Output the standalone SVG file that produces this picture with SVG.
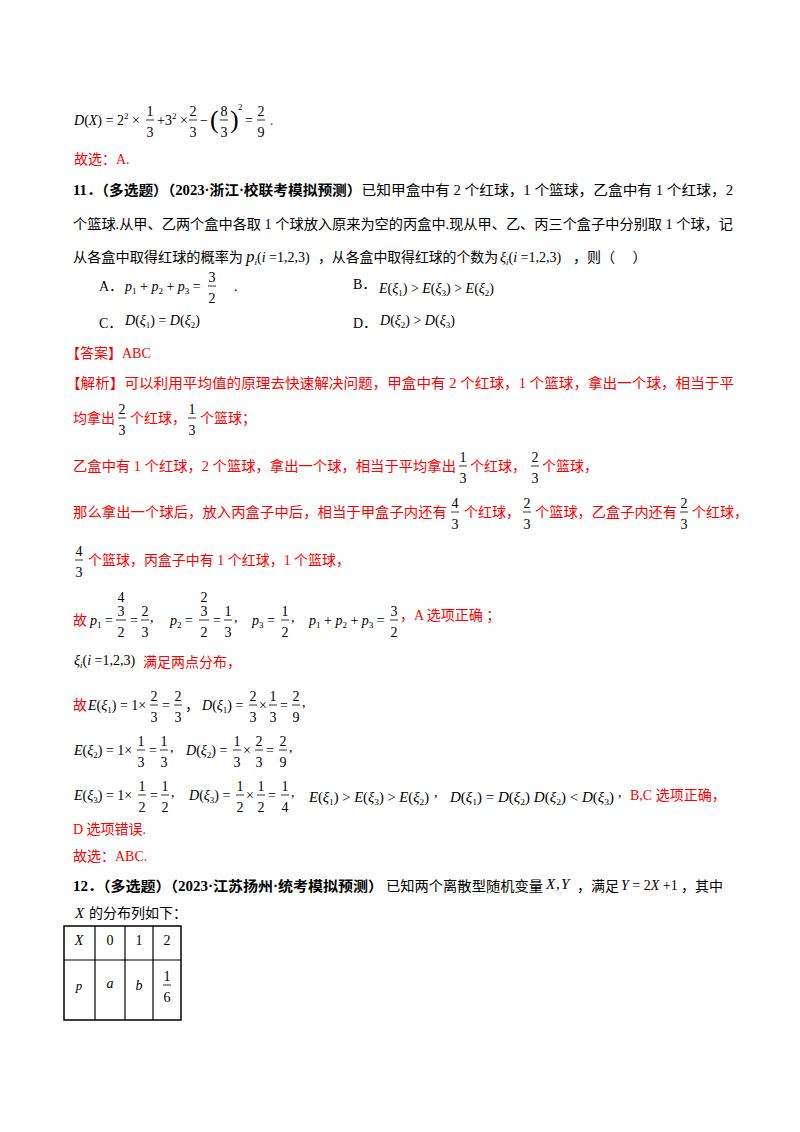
<svg xmlns="http://www.w3.org/2000/svg" width="800" height="1132" viewBox="0 0 800 1132">
<style>
text{font-family:"Liberation Serif","Noto Sans CJK SC",serif;font-size:14px;fill:#000}
.r{fill:#ff0000}
.i{font-style:italic}
.bd{font-weight:bold}
.c{text-anchor:middle}
.sb{font-size:9px;baseline-shift:-3px}
.sp{font-size:9px;baseline-shift:6px}
line{stroke:#000;stroke-width:0.8}
</style>
<rect width="800" height="1132" fill="#fff"/>

<!-- line 1 -->
<text x="74" y="125"><tspan class="i">D</tspan>(<tspan class="i">X</tspan>) = 2<tspan class="sp">2</tspan> ×</text>
<text x="150" y="116" class="c">1</text><line x1="146" y1="120" x2="154" y2="120"/><text x="150" y="137" class="c">3</text>
<text x="157" y="125">+3<tspan class="sp">2</tspan> ×</text>
<text x="193" y="116" class="c">2</text><line x1="189" y1="120" x2="197" y2="120"/><text x="193" y="137" class="c">3</text>
<text x="200" y="125">−</text>
<text x="210" y="128" style="font-size:26px;font-weight:100">(</text>
<text x="224" y="116" class="c">8</text><line x1="220" y1="120" x2="228" y2="120"/><text x="224" y="137" class="c">3</text>
<text x="230" y="128" style="font-size:26px">)</text>
<text x="238" y="110" style="font-size:9px">2</text>
<text x="245" y="125">=</text>
<text x="261" y="116" class="c">2</text><line x1="257" y1="120" x2="265" y2="120"/><text x="261" y="137" class="c">9</text>
<text x="270" y="125" class="r">.</text>

<text x="74" y="164" class="r">故选：A.</text>

<!-- Q11 -->
<text x="73" y="195" textLength="660" lengthAdjust="spacingAndGlyphs"><tspan class="bd">11．（多选题）（2023·浙江·校联考模拟预测）</tspan>已知甲盒中有 2 个红球，1 个篮球，乙盒中有 1 个红球，2</text>
<text x="73" y="229" textLength="660" lengthAdjust="spacingAndGlyphs">个篮球.从甲、乙两个盒中各取 1 个球放入原来为空的丙盒中.现从甲、乙、丙三个盒子中分别取 1 个球，记</text>
<text x="73" y="262" textLength="170" lengthAdjust="spacingAndGlyphs">从各盒中取得红球的概率为</text>
<text x="246" y="262"><tspan class="i" style="font-size:17px">p</tspan><tspan class="sb i">i</tspan>(<tspan class="i">i</tspan> =1,2,3)</text>
<text x="318" y="262" textLength="180" lengthAdjust="spacingAndGlyphs">，从各盒中取得红球的个数为</text>
<text x="500" y="262"><tspan class="i">ξ</tspan><tspan class="sb i">i</tspan>(<tspan class="i">i</tspan> =1,2,3)</text>
<text x="573" y="262">，则（　 ）</text>

<text x="99" y="291">A．</text>
<text x="125" y="291"><tspan class="i">p</tspan><tspan class="sb">1</tspan> + <tspan class="i">p</tspan><tspan class="sb">2</tspan> + <tspan class="i">p</tspan><tspan class="sb">3</tspan> =</text>
<text x="212" y="282" class="c">3</text><line x1="208" y1="286" x2="216" y2="286"/><text x="212" y="303" class="c">2</text>
<text x="234" y="291">.</text>
<text x="353" y="289">B．</text>
<text x="379" y="293"><tspan class="i">E</tspan>(<tspan class="i">ξ</tspan><tspan class="sb">1</tspan>) &gt; <tspan class="i">E</tspan>(<tspan class="i">ξ</tspan><tspan class="sb">3</tspan>) &gt; <tspan class="i">E</tspan>(<tspan class="i">ξ</tspan><tspan class="sb">2</tspan>)</text>
<text x="99" y="328">C．</text>
<text x="125" y="325"><tspan class="i">D</tspan>(<tspan class="i">ξ</tspan><tspan class="sb">1</tspan>) = <tspan class="i">D</tspan>(<tspan class="i">ξ</tspan><tspan class="sb">2</tspan>)</text>
<text x="353" y="328">D．</text>
<text x="380" y="325"><tspan class="i">D</tspan>(<tspan class="i">ξ</tspan><tspan class="sb">2</tspan>) &gt; <tspan class="i">D</tspan>(<tspan class="i">ξ</tspan><tspan class="sb">3</tspan>)</text>

<text x="66" y="358" class="r">【答案】ABC</text>
<text x="66" y="388" class="r" textLength="668" lengthAdjust="spacingAndGlyphs">【解析】可以利用平均值的原理去快速解决问题，甲盒中有 2 个红球，1 个篮球，拿出一个球，相当于平</text>

<text x="73" y="423" class="r">均拿出</text>
<text x="122" y="414" class="c">2</text><line x1="118" y1="418" x2="126" y2="418"/><text x="122" y="435" class="c">3</text>
<text x="130" y="423" class="r">个红球，</text>
<text x="192" y="414" class="c">1</text><line x1="188" y1="418" x2="196" y2="418"/><text x="192" y="435" class="c">3</text>
<text x="200" y="423" class="r">个篮球；</text>

<text x="73" y="471" class="r" textLength="383" lengthAdjust="spacingAndGlyphs">乙盒中有 1 个红球，2 个篮球，拿出一个球，相当于平均拿出</text>
<text x="463" y="462" class="c">1</text><line x1="459" y1="466" x2="467" y2="466"/><text x="463" y="483" class="c">3</text>
<text x="470" y="471" class="r">个红球，</text>
<text x="535" y="462" class="c">2</text><line x1="531" y1="466" x2="539" y2="466"/><text x="535" y="483" class="c">3</text>
<text x="542" y="471" class="r">个篮球，</text>

<text x="73" y="517" class="r" textLength="374" lengthAdjust="spacingAndGlyphs">那么拿出一个球后，放入丙盒子中后，相当于甲盒子内还有</text>
<text x="455" y="508" class="c">4</text><line x1="451" y1="512" x2="459" y2="512"/><text x="455" y="529" class="c">3</text>
<text x="464" y="517" class="r">个红球，</text>
<text x="527" y="508" class="c">2</text><line x1="523" y1="512" x2="531" y2="512"/><text x="527" y="529" class="c">3</text>
<text x="535" y="517" class="r" textLength="142" lengthAdjust="spacingAndGlyphs">个篮球，乙盒子内还有</text>
<text x="684" y="508" class="c">2</text><line x1="680" y1="512" x2="688" y2="512"/><text x="684" y="529" class="c">3</text>
<text x="692" y="517" class="r">个红球，</text>

<text x="79" y="556" class="c">4</text><line x1="75" y1="560" x2="83" y2="560"/><text x="79" y="577" class="c">3</text>
<text x="88" y="565" class="r" textLength="262" lengthAdjust="spacingAndGlyphs">个篮球，丙盒子中有 1 个红球，1 个篮球，</text>

<!-- p line -->
<text x="73" y="625" class="r">故</text>
<text x="90" y="625"><tspan class="i">p</tspan><tspan class="sb">1</tspan> =</text>
<text x="121" y="602" class="c">4</text><text x="121" y="616" class="c">3</text><line x1="116" y1="620" x2="126" y2="620"/><text x="121" y="637" class="c">2</text>
<text x="130" y="625">=</text>
<text x="145" y="616" class="c">2</text><line x1="141" y1="620" x2="149" y2="620"/><text x="145" y="637" class="c">3</text>
<text x="150" y="622">,</text>
<text x="170" y="625"><tspan class="i">p</tspan><tspan class="sb">2</tspan> =</text>
<text x="204" y="602" class="c">2</text><text x="204" y="616" class="c">3</text><line x1="199" y1="620" x2="209" y2="620"/><text x="204" y="637" class="c">2</text>
<text x="213" y="625">=</text>
<text x="228" y="616" class="c">1</text><line x1="224" y1="620" x2="232" y2="620"/><text x="228" y="637" class="c">3</text>
<text x="234" y="622">,</text>
<text x="252" y="625"><tspan class="i">p</tspan><tspan class="sb">3</tspan> =</text>
<text x="285" y="616" class="c">1</text><line x1="281" y1="620" x2="289" y2="620"/><text x="285" y="637" class="c">2</text>
<text x="291" y="622">,</text>
<text x="309" y="625"><tspan class="i">p</tspan><tspan class="sb">1</tspan> + <tspan class="i">p</tspan><tspan class="sb">2</tspan> + <tspan class="i">p</tspan><tspan class="sb">3</tspan> =</text>
<text x="394" y="616" class="c">3</text><line x1="390" y1="620" x2="398" y2="620"/><text x="394" y="637" class="c">2</text>
<text x="400" y="620" class="r">，A 选项正确 ；</text>

<text x="74" y="665"><tspan class="i">ξ</tspan><tspan class="sb i">i</tspan>(<tspan class="i">i</tspan> =1,2,3)</text>
<text x="143" y="667" class="r">满足两点分布，</text>

<!-- E1 -->
<text x="73" y="710" class="r">故</text>
<text x="88" y="710"><tspan class="i">E</tspan>(<tspan class="i">ξ</tspan><tspan class="sb">1</tspan>) = 1×</text>
<text x="154" y="701" class="c">2</text><line x1="150" y1="705" x2="158" y2="705"/><text x="154" y="722" class="c">3</text>
<text x="162" y="710">=</text>
<text x="178" y="701" class="c">2</text><line x1="174" y1="705" x2="182" y2="705"/><text x="178" y="722" class="c">3</text>
<text x="185" y="710">，</text>
<text x="202" y="710"><tspan class="i">D</tspan>(<tspan class="i">ξ</tspan><tspan class="sb">1</tspan>) =</text>
<text x="253" y="701" class="c">2</text><line x1="249" y1="705" x2="257" y2="705"/><text x="253" y="722" class="c">3</text>
<text x="259" y="710">×</text>
<text x="273" y="701" class="c">1</text><line x1="269" y1="705" x2="277" y2="705"/><text x="273" y="722" class="c">3</text>
<text x="280" y="710">=</text>
<text x="296" y="701" class="c">2</text><line x1="292" y1="705" x2="300" y2="705"/><text x="296" y="722" class="c">9</text>
<text x="302" y="707">,</text>

<!-- E2 -->
<text x="74" y="755"><tspan class="i">E</tspan>(<tspan class="i">ξ</tspan><tspan class="sb">2</tspan>) = 1×</text>
<text x="141" y="746" class="c">1</text><line x1="137" y1="750" x2="145" y2="750"/><text x="141" y="767" class="c">3</text>
<text x="149" y="755">=</text>
<text x="164" y="746" class="c">1</text><line x1="160" y1="750" x2="168" y2="750"/><text x="164" y="767" class="c">3</text>
<text x="170" y="752">,</text>
<text x="186" y="755"><tspan class="i">D</tspan>(<tspan class="i">ξ</tspan><tspan class="sb">2</tspan>) =</text>
<text x="237" y="746" class="c">1</text><line x1="233" y1="750" x2="241" y2="750"/><text x="237" y="767" class="c">3</text>
<text x="243" y="755">×</text>
<text x="259" y="746" class="c">2</text><line x1="255" y1="750" x2="263" y2="750"/><text x="259" y="767" class="c">3</text>
<text x="266" y="755">=</text>
<text x="283" y="746" class="c">2</text><line x1="279" y1="750" x2="287" y2="750"/><text x="283" y="767" class="c">9</text>
<text x="289" y="752">,</text>

<!-- E3 -->
<text x="74" y="800"><tspan class="i">E</tspan>(<tspan class="i">ξ</tspan><tspan class="sb">3</tspan>) = 1×</text>
<text x="142" y="791" class="c">1</text><line x1="138" y1="795" x2="146" y2="795"/><text x="142" y="812" class="c">2</text>
<text x="150" y="800">=</text>
<text x="165" y="791" class="c">1</text><line x1="161" y1="795" x2="169" y2="795"/><text x="165" y="812" class="c">2</text>
<text x="171" y="797">,</text>
<text x="189" y="800"><tspan class="i">D</tspan>(<tspan class="i">ξ</tspan><tspan class="sb">3</tspan>) =</text>
<text x="240" y="791" class="c">1</text><line x1="236" y1="795" x2="244" y2="795"/><text x="240" y="812" class="c">2</text>
<text x="246" y="800">×</text>
<text x="261" y="791" class="c">1</text><line x1="257" y1="795" x2="265" y2="795"/><text x="261" y="812" class="c">2</text>
<text x="268" y="800">=</text>
<text x="285" y="791" class="c">1</text><line x1="281" y1="795" x2="289" y2="795"/><text x="285" y="812" class="c">4</text>
<text x="291" y="797">,</text>
<text x="309" y="802" textLength="120" lengthAdjust="spacingAndGlyphs"><tspan class="i">E</tspan>(<tspan class="i">ξ</tspan><tspan class="sb">1</tspan>) &gt; <tspan class="i">E</tspan>(<tspan class="i">ξ</tspan><tspan class="sb">3</tspan>) &gt; <tspan class="i">E</tspan>(<tspan class="i">ξ</tspan><tspan class="sb">2</tspan>)</text>
<text x="434" y="797">,</text>
<text x="450" y="802" textLength="164" lengthAdjust="spacingAndGlyphs"><tspan class="i">D</tspan>(<tspan class="i">ξ</tspan><tspan class="sb">1</tspan>) = <tspan class="i">D</tspan>(<tspan class="i">ξ</tspan><tspan class="sb">2</tspan>) <tspan class="i">D</tspan>(<tspan class="i">ξ</tspan><tspan class="sb">2</tspan>) &lt; <tspan class="i">D</tspan>(<tspan class="i">ξ</tspan><tspan class="sb">3</tspan>)</text>
<text x="618" y="797">,</text>
<text x="630" y="800" class="r">B,C 选项正确，</text>

<text x="73" y="834" class="r">D 选项错误.</text>
<text x="73" y="861" class="r">故选：ABC.</text>

<!-- Q12 -->
<text x="73" y="891" textLength="310" lengthAdjust="spacingAndGlyphs" class="bd">12．（多选题）（2023·江苏扬州·统考模拟预测）</text>
<text x="386" y="891" textLength="157" lengthAdjust="spacingAndGlyphs">已知两个离散型随机变量</text>
<text x="546" y="889" class="i" style="font-size:15px">X</text><text x="556" y="889" style="font-size:15px">,</text><text x="561" y="889" class="i" style="font-size:15px">Y</text>
<text x="577" y="891">，满足</text>
<text x="621" y="890"><tspan class="i">Y</tspan> = 2<tspan class="i">X</tspan> +1</text>
<text x="681" y="891">，其中</text>
<text x="75" y="918" class="i" style="font-size:15px">X</text>
<text x="89" y="918">的分布列如下：</text>

<g id="table">
<rect x="64" y="926" width="117" height="94" fill="none" stroke="#000" stroke-width="1.5"/>
<line x1="64" y1="960" x2="181" y2="960" style="stroke-width:1.2"/>
<line x1="95" y1="926" x2="95" y2="1020" style="stroke-width:1.2"/>
<line x1="125" y1="926" x2="125" y2="1020" style="stroke-width:1.2"/>
<line x1="153" y1="926" x2="153" y2="1020" style="stroke-width:1.2"/>
<text x="79" y="945" class="c i">X</text>
<text x="110" y="945" class="c">0</text>
<text x="139" y="945" class="c">1</text>
<text x="167" y="945" class="c">2</text>
<text x="79" y="990" class="c i" style="font-size:13px">p</text>
<text x="110" y="988" class="c i">a</text>
<text x="139" y="990" class="c i">b</text>
<text x="167" y="981" class="c">1</text><line x1="163" y1="985" x2="171" y2="985"/><text x="167" y="1002" class="c">6</text>
</g>
</svg>
